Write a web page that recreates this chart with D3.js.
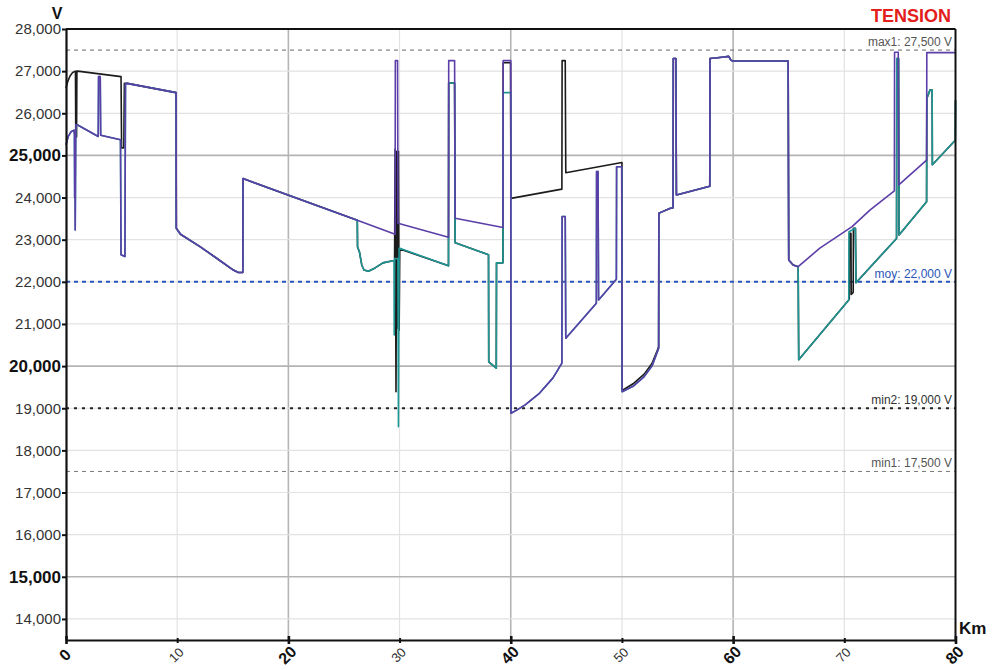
<!DOCTYPE html>
<html>
<head>
<meta charset="utf-8">
<script src="https://cdn.jsdelivr.net/npm/d3@7"></script>
<style>
  body { margin: 0; background: #fff; }
  svg { display: block; }
  text { font-family: "Liberation Sans", Arial, sans-serif; }
</style>
</head>
<body>
<svg id="chart" width="997" height="670"></svg>
<script>
// ---- Axis ticks ----
const kmTicks = [0, 10, 20, 30, 40, 50, 60, 70, 80];
const kmMajor = [0, 20, 40, 60, 80];
const voltTicks = [14000, 15000, 16000, 17000, 18000, 19000, 20000, 21000,
                   22000, 23000, 24000, 25000, 26000, 27000, 28000];
const voltMajor = [15000, 20000, 25000];

// ---- Threshold lines ----
const refNames  = ["max1", "moy", "min2", "min1"];
const refValues = [27500, 22000, 19000, 17500];

// ---- Voltage along the line, [km, V] ----
// segment shared by the three traces (0 - 10 km)
const startPurple = [[0,25250],[0.2,25450],[0.45,25560],[0.72,25600],[0.76,25500],[0.78,23990],[0.8,25500],[0.83,23230],[0.88,25720],
  [1.05,25720],[2.9,25450],[2.93,26870],[3.08,26870],[3.12,25480],[4.9,25370],[4.95,22640],[5.3,22600],[5.35,26700],
  [5.5,26710],[9.9,26490]];
const startBlack = [[0,26600],[0.15,26750],[0.35,26880],[0.6,26970],[0.85,27000],[0.88,25440],[0.95,25440],[0.98,27000],
  [1.05,27000],[4.95,26870],[5.0,25180],[5.2,25180],[5.25,26710],[5.5,26710],[9.9,26490]];
// decay after 10 km and slow ramp down to 26 km
const decayShared = [[9.92,23270],[10.3,23130],[12.05,22835],[13.55,22560],[15.05,22280],[15.5,22220],[15.9,22220],
  [15.92,24450],[26.2,23460]];
// purple between 26 and 40 km
const midPurple = [[29.6,23130],[29.62,27250],[29.82,27250],[29.86,23390],[34.4,23060],[34.42,27250],[34.95,27250],
  [35.0,23510],[39.3,23290],[39.32,27250],[40.0,27250],[40.02,18880]];
// teal dip between 26 and 40 km
const midTeal = [[26.22,22830],[26.4,22700],[26.6,22400],[26.8,22280],[27.2,22250],[27.8,22330],[28.5,22450],
  [29.4,22500],[29.5,22500],[29.52,20740],[29.56,22550],[29.85,22550],[29.9,18560],[29.96,22800],[34.4,22380],
  [34.42,26720],[34.95,26720],[35.0,22930],[38.0,22640],[38.02,20100],[38.7,19950],[38.72,22450],[39.3,22450],
  [39.32,26490],[40.0,26490],[40.02,18880]];
const midBlack = [[26.22,22830],[26.4,22700],[26.6,22400],[26.8,22280],[27.2,22250],[27.8,22330],[28.5,22450],
  [29.4,22500],[29.55,22500],[29.6,25150],[29.68,19390],[29.75,25100],[29.82,20900],[29.9,25100],[29.96,20850],
  [30.02,22780],[34.4,22380],[34.42,26720],[34.95,26720],[35.0,22930],[38.0,22640],[38.02,20100],[38.7,19950],
  [38.72,22450],[39.3,22450],[39.32,27200],[39.98,27200],[40.02,23980]];
// sawtooth 40 - 50 km
const saw40 = [[40.5,18950],[41.3,19080],[42.6,19360],[43.8,19720],[44.6,20070],[44.62,23550],[44.9,23550],
  [44.95,20660],[47.7,21490],[47.72,24620],[47.85,24620],[47.9,21570],[49.5,22060],[49.52,24730],[49.98,24730],
  [50.02,19390]];
const black40 = [[44.6,24200],[44.62,27250],[44.9,27250],[44.95,24590],[50.0,24830],[50.02,19420],[51.0,19580],
  [52.0,19810],[52.7,20060],[53.3,20450]];
// 50 - 65 km
const ramp50 = [[51.0,19520],[52.0,19750],[52.7,20000],[53.3,20420]];
const high53 = [[53.32,23630],[53.6,23660],[54.3,23740],[54.6,23760],[54.62,27300],[54.85,27300],[54.9,24060],
  [57.9,24270],[57.92,27300],[59.0,27330],[59.6,27350],[59.8,27260],[60.0,27240],[64.95,27240],[65.0,22520],
  [65.4,22400],[65.85,22360]];
// 65 - 80 km
const endPurple = [[67.8,22800],[70.7,23310],[72.3,23700],[74.5,24160],[74.52,27450],[74.85,27450],[74.9,24300],
  [77.4,24890],[77.42,27440],[80.0,27440]];
const endTeal = [[65.9,20150],[70.4,21570],[70.42,23190],[71.0,23270],[71.05,21980],[74.7,23030],[74.72,27300],
  [74.88,27300],[74.92,23110],[77.4,23900],[77.42,26350],[77.7,26550],[77.9,26550],[77.92,24780],[79.98,25360],
  [80.0,26310]];
const endBlack = [[65.9,20150],[70.4,21570],[70.45,21600],[70.47,23150],[70.6,23150],[70.62,21700],[70.8,21750],
  [70.82,23270],[71.0,23270],[71.05,21980],[74.7,23030],[74.72,27300],[74.88,27300],[74.92,23110],[77.4,23900],
  [77.42,26350],[77.7,26550],[77.9,26550],[77.92,24780],[79.98,25360],[80.0,26310]];

const purpleSeries = [...startPurple, ...decayShared, ...midPurple, ...saw40, ...ramp50, ...high53, ...endPurple];
const tealSeries   = [...startPurple, ...decayShared, ...midTeal, ...saw40, ...ramp50, ...high53, ...endTeal];
const blackSeries  = [...startBlack, ...decayShared, ...midBlack, ...black40, ...high53, ...endBlack];

const traces = [
  { name: "black",  color: "#1b1b1b", data: blackSeries },
  { name: "teal",   color: "#1f9694", data: tealSeries },
  { name: "purple", color: "#5b3ea8", data: purpleSeries }
];

// ---- Layout ----
const svg = d3.select("#chart");
const x = d3.scaleLinear().domain([0, 80]).range([66, 955.5]);
const y = d3.scaleLinear().domain([13500, 28000]).range([640, 29]);
const fmt = d3.format(",");

// grid
const grid = svg.append("g");
grid.selectAll("line.gx").data(kmTicks.filter(d => d > 0 && d < 80)).join("line")
  .attr("x1", d => x(d)).attr("x2", d => x(d)).attr("y1", y(28000)).attr("y2", y(13500))
  .attr("stroke", d => kmMajor.includes(d) ? "#b4b4b4" : "#e2e2e2")
  .attr("stroke-width", d => kmMajor.includes(d) ? 1.6 : 1.2);
grid.selectAll("line.gy").data(voltTicks.filter(d => d < 28000)).join("line")
  .attr("x1", x(0)).attr("x2", x(80)).attr("y1", d => y(d)).attr("y2", d => y(d))
  .attr("stroke", d => voltMajor.includes(d) ? "#b4b4b4" : "#e2e2e2")
  .attr("stroke-width", d => voltMajor.includes(d) ? 1.6 : 1.2);

// threshold lines
const refStyle = {
  max1: { color: "#666", width: 1, dash: "4,4", text: "#555" },
  moy:  { color: "#2a55b8", width: 2, dash: "4,4", text: "#2a55b8" },
  min2: { color: "#222", width: 2, dash: "3,5", text: "#333" },
  min1: { color: "#777", width: 1, dash: "4,4", text: "#555" }
};
refNames.forEach((n, i) => {
  const s = refStyle[n];
  svg.append("line")
    .attr("x1", x(0)).attr("x2", x(80))
    .attr("y1", y(refValues[i])).attr("y2", y(refValues[i]))
    .attr("stroke", s.color).attr("stroke-width", s.width).attr("stroke-dasharray", s.dash);
});

// traces
const line = d3.line().x(d => x(d[0])).y(d => y(d[1]));
svg.append("g").selectAll("path").data(traces).join("path")
  .attr("d", d => line(d.data))
  .attr("fill", "none")
  .attr("stroke", d => d.color)
  .attr("stroke-width", 1.6)
  .attr("stroke-linejoin", "round");

// threshold labels
refNames.forEach((n, i) => {
  const s = refStyle[n];
  svg.append("text")
    .attr("x", 952).attr("y", y(refValues[i]) - 4)
    .attr("text-anchor", "end")
    .attr("font-size", 12)
    .attr("fill", s.text)
    .text(`${n}: ${fmt(refValues[i])} V`);
});

// frame
svg.append("line").attr("x1", x(0)).attr("x2", x(80)).attr("y1", y(28000)).attr("y2", y(28000))
  .attr("stroke", "#111").attr("stroke-width", 2);
svg.append("line").attr("x1", x(80)).attr("x2", x(80)).attr("y1", y(28000)).attr("y2", y(13500))
  .attr("stroke", "#111").attr("stroke-width", 2);

// y axis
const yAxis = svg.append("g").attr("transform", `translate(${x(0)},0)`)
  .call(d3.axisLeft(y).tickValues(voltTicks).tickFormat(fmt).tickSize(4).tickSizeOuter(0).tickPadding(1));
yAxis.select(".domain").attr("stroke", "#111").attr("stroke-width", 2.2);
yAxis.selectAll(".tick line").attr("stroke", "#111").attr("stroke-width", 2);
yAxis.selectAll(".tick text")
  .attr("font-family", "'Liberation Sans', Arial, sans-serif")
  .attr("font-size", d => voltMajor.includes(d) ? 17 : 15)
  .attr("font-weight", d => voltMajor.includes(d) ? "bold" : "normal")
  .attr("fill", d => voltMajor.includes(d) ? "#111" : "#333");

// x axis
const xAxis = svg.append("g").attr("transform", `translate(0,${y(13500)})`)
  .call(d3.axisBottom(x).tickValues(kmTicks).tickFormat(d => d).tickSizeOuter(0));
xAxis.select(".domain").attr("stroke", "#111").attr("stroke-width", 2.2);
xAxis.selectAll(".tick line")
  .attr("y1", d => kmMajor.includes(d) ? -4 : -2)
  .attr("y2", d => kmMajor.includes(d) ? 4 : 3)
  .attr("stroke", "#111")
  .attr("stroke-width", d => kmMajor.includes(d) ? 2.6 : 2);
xAxis.selectAll(".tick text")
  .attr("font-family", "'Liberation Sans', Arial, sans-serif")
  .attr("font-size", d => kmMajor.includes(d) ? 16 : 13)
  .attr("font-weight", d => kmMajor.includes(d) ? "bold" : "normal")
  .attr("fill", d => kmMajor.includes(d) ? "#111" : "#333")
  .attr("text-anchor", "middle")
  .attr("x", 0).attr("y", 0)
  .attr("dy", "0.35em")
  .attr("transform", "translate(-1.5,15) rotate(-45)");

// axis titles
svg.append("text").attr("x", 57).attr("y", 19).attr("text-anchor", "middle")
  .attr("font-size", 16).attr("font-weight", "bold").attr("fill", "#111").text("V");
svg.append("text").attr("x", 959).attr("y", 634)
  .attr("font-size", 17).attr("font-weight", "bold").attr("fill", "#111").text("Km");
svg.append("text").attr("x", 951).attr("y", 22).attr("text-anchor", "end")
  .attr("font-size", 18).attr("font-weight", "bold").attr("fill", "#e3201b").text("TENSION");
</script>
</body>
</html>
